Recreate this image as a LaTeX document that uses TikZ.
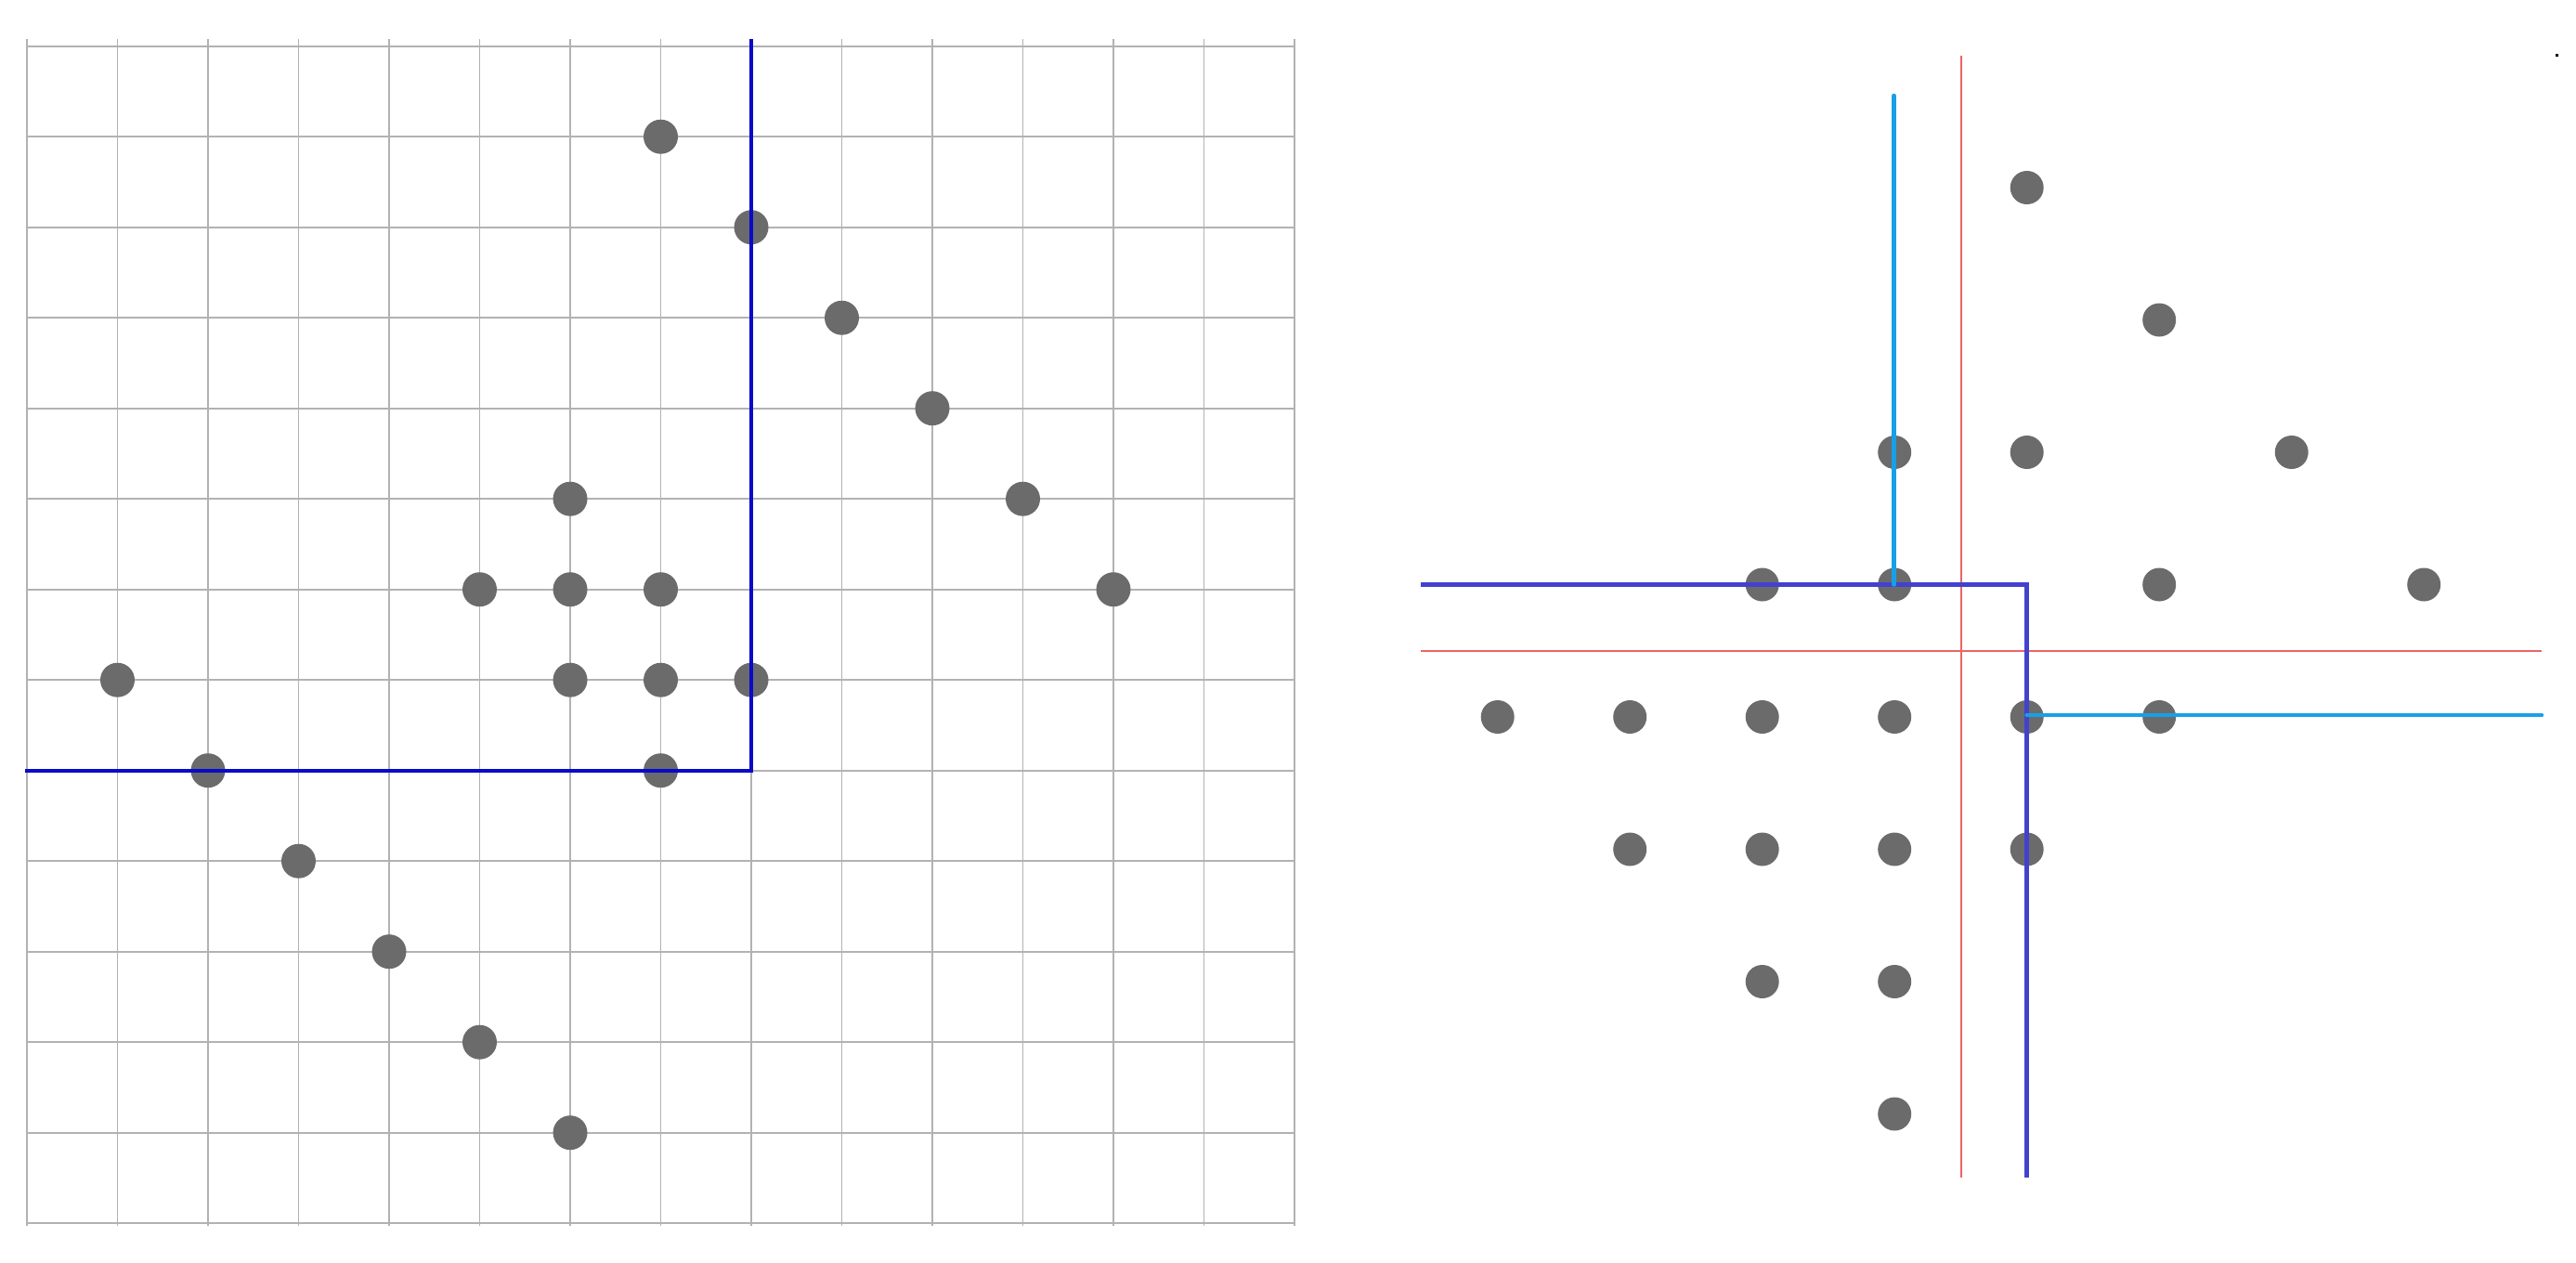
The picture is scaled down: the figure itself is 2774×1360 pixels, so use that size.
\documentclass[tikz,border=0pt]{standalone}
\definecolor{gridgray}{RGB}{178,178,178}
\definecolor{dotgray}{RGB}{107,107,107}
\definecolor{lblue}{RGB}{10,10,200}
\definecolor{rblue}{RGB}{66,66,205}
\definecolor{rred}{RGB}{236,100,100}
\definecolor{rcyan}{RGB}{24,160,230}
\begin{document}
\begin{tikzpicture}[x=1pt,y=-1pt,
  gridline/.style={draw=gridgray,line width=1.6pt},
  dot/.style={circle,fill=dotgray,inner sep=0pt,minimum size=37pt},
  leftblue/.style={draw=lblue,line width=4pt},
  redline/.style={draw=rred,line width=2pt},
  bluepath/.style={draw=rblue,line width=4.5pt},
  cyanline/.style={draw=rcyan,line width=4.5pt,line cap=round}]
\useasboundingbox (0,0) rectangle (2774,1360);
\fill[white] (0,0) rectangle (2774,1360);
% left grid
\foreach \i in {0,...,14}{\draw[gridline] ({29+97.5*\i},42) -- ({29+97.5*\i},1320);}
\foreach \j in {0,...,13}{\draw[gridline] (28,{49.7+97.5*\j}) -- (1394,{49.7+97.5*\j});}
% left dots
\foreach \c/\r in {7/1,8/2,9/3,10/4,11/5,12/6,6/5,5/6,6/6,7/6,1/7,6/7,7/7,8/7,2/8,7/8,3/9,4/10,5/11,6/12}
  {\node[dot] (L-\c-\r) at ({29+97.5*\c},{49.7+97.5*\r}) {};}
% left blue path
\coordinate (lbtop) at (809,42);
\coordinate (lbcorner) at (809,829.7);
\coordinate (lbleft) at (27,829.7);
\draw[leftblue] (lbtop) -- (lbcorner) -- (lbleft);
% right dots
\foreach \c/\r in {4/0,5/1,3/2,4/2,6/2,2/3,3/3,5/3,7/3,0/4,1/4,2/4,3/4,4/4,5/4,1/5,2/5,3/5,4/5,2/6,3/6,3/7}
  {\node[dot,minimum size=36pt] (R-\c-\r) at ({1612.7+142.5*\c},{202+142.5*\r}) {};}
% red lines
\coordinate (rvtop) at (2111.5,60);
\coordinate (rvbot) at (2111.5,1268);
\coordinate (rhleft) at (1530,701);
\coordinate (rhright) at (2737,701);
\draw[redline] (rvtop) -- (rvbot);
\draw[redline] (rhleft) -- (rhright);
% blue path
\coordinate (bpleft) at (1530,629.5);
\coordinate (bpcorner) at (2182.7,629.5);
\coordinate (bpbot) at (2182.7,1268);
\draw[bluepath] (bpleft) -- (bpcorner) -- (bpbot);
% cyan lines
\coordinate (cvtop) at (2039.5,103);
\coordinate (cvbot) at (2039.5,629.5);
\coordinate (chleft) at (2182.7,770);
\coordinate (chright) at (2737,770);
\draw[cyanline] (cvtop) -- (cvbot);
\draw[cyanline] (chleft) -- (chright);
% tiny mark
\fill[black] (2752,58) rectangle (2754.5,60.5);
\end{tikzpicture}
\end{document}
